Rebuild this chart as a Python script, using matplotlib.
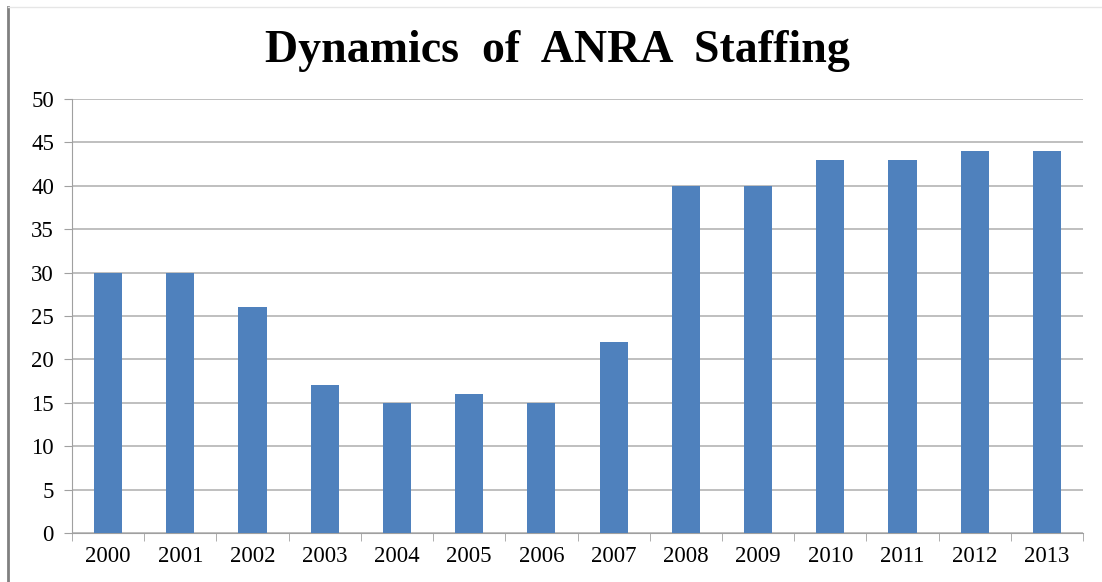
import matplotlib.pyplot as plt
from matplotlib.lines import Line2D

years = ['2000', '2001', '2002', '2003', '2004', '2005', '2006',
         '2007', '2008', '2009', '2010', '2011', '2012', '2013']
staff = [30, 30, 26, 17, 15, 16, 15, 22, 40, 40, 43, 43, 44, 44]
y_ticks = [0, 5, 10, 15, 20, 25, 30, 35, 40, 45, 50]

plt.rcParams['font.family'] = ['Liberation Serif', 'DejaVu Serif']

fig = plt.figure(figsize=(11.02, 5.82), dpi=100)
ax = fig.add_axes([72 / 1102, 1 - 533 / 582, (1083 - 72) / 1102, (533 - 99) / 582])

x = range(len(years))
ax.bar(x, staff, width=0.39, color='#4F81BD', zorder=3)

ax.set_xlim(-0.5, len(years) - 0.5)
ax.set_ylim(0, 50)
ax.set_yticks(y_ticks)
ax.tick_params(axis='y', labelsize=16.5, length=6, color='#A0A0A0', pad=7)
ax.grid(axis='y', color='#BFBFBF', linewidth=1.4, zorder=0)

# category labels centred, tick marks on category boundaries
ax.set_xticks(list(x))
ax.set_xticklabels(years, fontsize=16.5)
ax.tick_params(axis='x', length=0, pad=9)
ax.set_xticks([i - 0.5 for i in range(len(years) + 1)], minor=True)
ax.tick_params(axis='x', which='minor', length=6, color='#A0A0A0')

for side in ['top', 'right']:
    ax.spines[side].set_visible(False)
ax.spines['left'].set_color('#A0A0A0')
ax.spines['bottom'].set_color('#A0A0A0')

fig.text(0.506, 0.912, 'Dynamics  of  ANRA  Staffing', ha='center', va='center',
         fontsize=33, fontweight='bold')

# frame of the original screenshot
fig.add_artist(Line2D([8 / 1102, 8 / 1102], [0.0, 1 - 7 / 582], color='#808080', linewidth=2))
fig.add_artist(Line2D([8 / 1102, 1.0], [1 - 7 / 582, 1 - 7 / 582], color='#E6E6E6', linewidth=1))

fig.savefig('out.png', dpi=100)
